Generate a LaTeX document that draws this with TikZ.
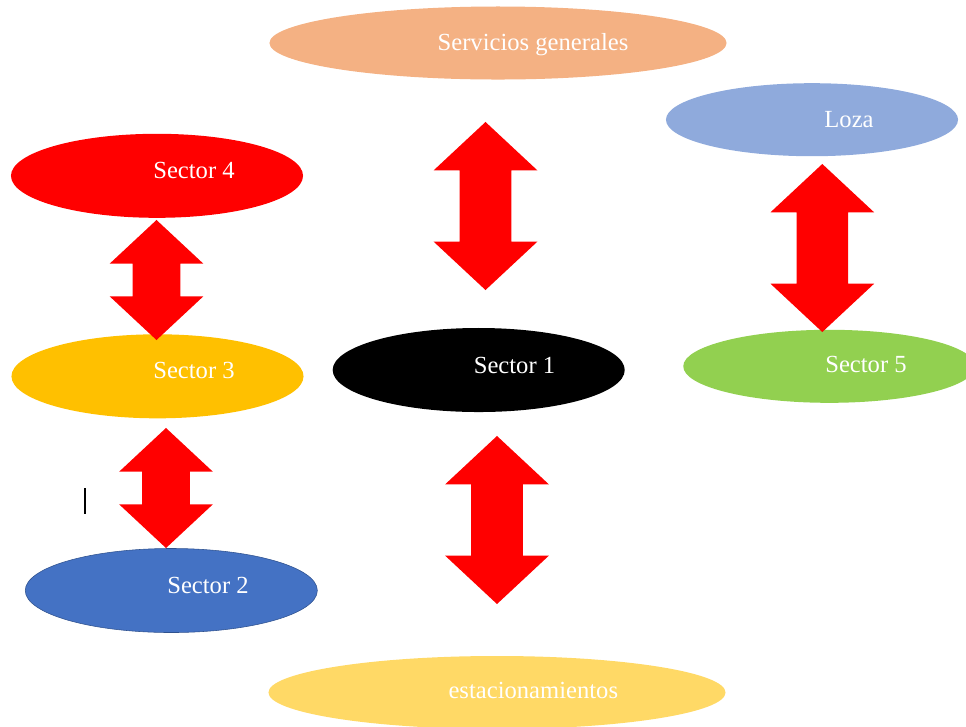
\documentclass[tikz,border=0pt]{standalone}
\usepackage{fontspec}
\setmainfont{Liberation Serif}
\usetikzlibrary{shapes.geometric,shapes.arrows}
\definecolor{salmon}{HTML}{F4B183}
\definecolor{lozablue}{HTML}{8FAADC}
\definecolor{amber}{HTML}{FFC000}
\definecolor{lime}{HTML}{92D050}
\definecolor{steel}{HTML}{4472C4}
\definecolor{steeledge}{HTML}{2F528F}
\definecolor{sand}{HTML}{FFD966}
\begin{document}
\begin{tikzpicture}[x=0.025cm,y=-0.025cm,
        zone/.style={ellipse,inner sep=0pt,minimum width=7.3cm,minimum height=2.1cm},
        flat/.style={ellipse,inner sep=0pt,minimum width=7.3cm,minimum height=1.825cm},
        wide/.style={ellipse,inner sep=0pt,minimum width=11.425cm,minimum height=1.825cm},
        zonetext/.style={text=white,font=\fontsize{17.5}{20}\selectfont,
          inner sep=0pt,text height=11.6pt,text depth=0pt},
        link/.style={double arrow,fill=red,rotate=90,double arrow tip angle=94,
          inner xsep=0pt,inner ysep=0.6375cm,double arrow head extend=0.65cm,
          minimum height=4.2cm,minimum width=2.575cm},
        shortlink/.style={link,inner ysep=0.5875cm,double arrow head extend=0.575cm,
          minimum height=3cm,minimum width=2.325cm}]
      \useasboundingbox (0,0) rectangle (966,726);
      % zonas
      \node (gen) at (498,43) [wide,fill=salmon] {};
      \node (loza) at (812,119.7) [flat,fill=lozablue] {};
      \node (s4) at (157,175.8) [zone,fill=red] {};
      \node (s3) at (157.5,376.3) [zone,fill=amber] {};
      \node (s1) at (478.7,370) [zone,fill=black] {};
      \node (s5) at (829.3,366.3) [flat,fill=lime] {};
      \node (s2) at (171.3,590.5) [zone,fill=steel,draw=steeledge,line width=0.4pt] {};
      \node (est) at (497,692.5) [wide,fill=sand] {};
      % textos
      \node (tgen) at (533,42) [zonetext] {Servicios generales};
      \node (tloza) at (849,119) [zonetext] {Loza};
      \node (t4) at (194,170) [zonetext] {Sector 4};
      \node (t3) at (194,370.3) [zonetext] {Sector 3};
      \node (t1) at (514.5,365) [zonetext] {Sector 1};
      \node (t5) at (866,364.5) [zonetext] {Sector 5};
      \node (t2) at (208,585.3) [zonetext] {Sector 2};
      \node (test) at (533.3,690) [zonetext] {estacionamientos};
      % flechas
      \node (a1) at (485.5,206) [link] {};
      \node (a2) at (156.5,280) [shortlink] {};
      \node (a3) at (166,488) [shortlink] {};
      \node (a4) at (822.3,248) [link] {};
      \node (a5) at (497,520) [link] {};
      \draw[line width=1pt] (85,488) -- (85,514);
\end{tikzpicture}
\end{document}
